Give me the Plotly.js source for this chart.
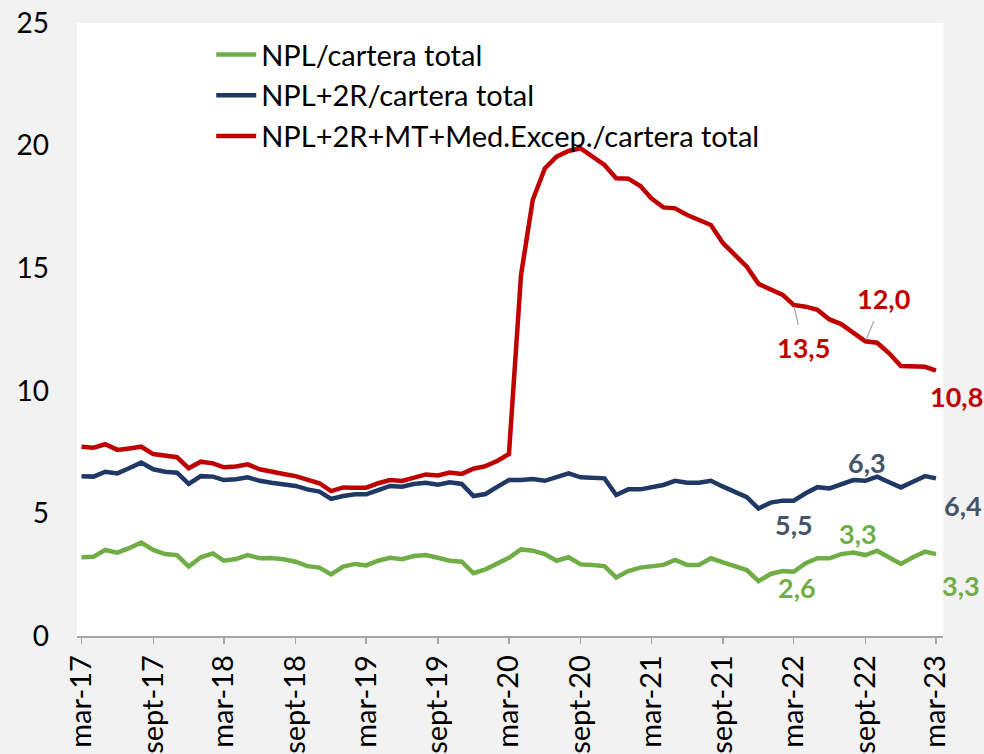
<!DOCTYPE html>
<html>
<head>
<meta charset="utf-8">
<script src="https://cdn.plot.ly/plotly-3.0.1.min.js"></script>
<style>
  html, body { margin: 0; padding: 0; background: #f2f2f2; }
  #chart { width: 984px; height: 754px; }
</style>
</head>
<body>
<div id="chart"></div>
<script>
// Monthly observations, March 2017 – March 2023
const startYear = 2017, startMonth = 3, nMonths = 73;
const months = [];
for (let k = 0; k < nMonths; k++) {
  const m0 = startMonth - 1 + k;
  const y = startYear + Math.floor(m0 / 12);
  const m = (m0 % 12) + 1;
  months.push(y + '-' + String(m).padStart(2, '0') + '-01');
}

const seriesNames = ['NPL/cartera total', 'NPL+2R/cartera total', 'NPL+2R+MT+Med.Excep./cartera total'];

const npl = [3.21, 3.23, 3.51, 3.40, 3.58, 3.81, 3.51, 3.34, 3.30, 2.83, 3.21, 3.37,
  3.07, 3.14, 3.30, 3.17, 3.18, 3.13, 3.03, 2.85, 2.79, 2.51, 2.83, 2.94,
  2.88, 3.07, 3.19, 3.13, 3.26, 3.30, 3.19, 3.07, 3.03, 2.56, 2.72, 2.94,
  3.19, 3.53, 3.48, 3.34, 3.07, 3.21, 2.92, 2.90, 2.85, 2.39, 2.65, 2.79,
  2.83, 2.90, 3.10, 2.90, 2.90, 3.17, 3.00, 2.85, 2.69, 2.24, 2.53, 2.65,
  2.62, 2.97, 3.17, 3.17, 3.34, 3.40, 3.30, 3.48, 3.21, 2.94, 3.21, 3.44, 3.34];

const npl2r = [6.52, 6.50, 6.70, 6.63, 6.84, 7.07, 6.80, 6.70, 6.66, 6.20, 6.52, 6.50,
  6.36, 6.39, 6.47, 6.33, 6.25, 6.20, 6.12, 5.98, 5.89, 5.59, 5.71, 5.78,
  5.78, 5.95, 6.12, 6.09, 6.20, 6.25, 6.17, 6.27, 6.20, 5.71, 5.79, 6.09,
  6.36, 6.36, 6.40, 6.33, 6.50, 6.63, 6.47, 6.46, 6.43, 5.75, 5.98, 5.98,
  6.05, 6.16, 6.33, 6.25, 6.25, 6.33, 6.09, 5.89, 5.66, 5.20, 5.44, 5.52,
  5.52, 5.82, 6.07, 6.02, 6.20, 6.36, 6.33, 6.50, 6.27, 6.06, 6.29, 6.52, 6.43];

const nplAll = [7.72, 7.68, 7.82, 7.59, 7.65, 7.72, 7.42, 7.35, 7.29, 6.84, 7.11, 7.04,
  6.88, 6.91, 7.00, 6.80, 6.69, 6.61, 6.52, 6.36, 6.23, 5.91, 6.06, 6.05,
  6.05, 6.23, 6.36, 6.32, 6.47, 6.59, 6.55, 6.67, 6.61, 6.82, 6.93, 7.15,
  7.42, 14.72, 17.78, 19.07, 19.55, 19.78, 19.89, 19.58, 19.21, 18.67, 18.65, 18.35,
  17.85, 17.48, 17.44, 17.17, 16.99, 16.76, 16.02, 15.54, 15.06, 14.36, 14.11, 13.91,
  13.50, 13.43, 13.30, 12.91, 12.72, 12.37, 12.02, 11.96, 11.53, 11.01, 11.01, 10.98, 10.82];

const tickDates = ['2017-03-01', '2017-09-01', '2018-03-01', '2018-09-01', '2019-03-01', '2019-09-01',
  '2020-03-01', '2020-09-01', '2021-03-01', '2021-09-01', '2022-03-01', '2022-09-01', '2023-03-01'];
const tickLabels = ['mar-17', 'sept-17', 'mar-18', 'sept-18', 'mar-19', 'sept-19',
  'mar-20', 'sept-20', 'mar-21', 'sept-21', 'mar-22', 'sept-22', 'mar-23'];

// value labels: [series index, month index]
const labelPoints = [
  [2, 60], [2, 66], [2, 72],
  [1, 66], [1, 60], [1, 72],
  [0, 60], [0, 66], [0, 72]
];

const colors = ['#70ad47', '#1f3864', '#c00000'];
const labelColors = ['#70ad47', '#44546a', '#c00000'];
const FONT = 'Lato, "Open Sans", sans-serif';

const allSeries = [npl, npl2r, nplAll];
const traces = allSeries.map((vals, s) => ({
  type: 'scatter',
  mode: 'lines',
  name: seriesNames[s],
  x: months,
  y: vals,
  line: { color: colors[s], width: 4.5 },
  hoverinfo: 'x+y+name'
}));

// offsets (px) for each label relative to its point
const offsets = [
  { ax: 10, ay: 43, arrow: true },
  { ax: 18, ay: -43, arrow: true },
  { ax: 21, ay: 26, arrow: false },
  { ax: 2, ay: -18, arrow: false },
  { ax: 0, ay: 24, arrow: false },
  { ax: 27, ay: 27, arrow: false },
  { ax: 3, ay: 16, arrow: false },
  { ax: -7, ay: -22, arrow: false },
  { ax: 25, ay: 31, arrow: false }
];

const annotations = labelPoints.map(([s, i], k) => {
  const v = allSeries[s][i];
  const o = offsets[k];
  return {
    x: months[i], y: v, xref: 'x', yref: 'y',
    text: v.toFixed(1).replace('.', ','),
    showarrow: true,
    arrowhead: 0,
    arrowwidth: o.arrow ? 1.2 : 0.1,
    arrowcolor: o.arrow ? '#a6a6a6' : 'rgba(0,0,0,0)',
    ax: o.ax, ay: o.ay,
    standoff: 2,
    borderpad: 6,
    font: { family: FONT, size: 27, color: labelColors[s], weight: 'bold' }
  };
});

const layout = {
  width: 984,
  height: 754,
  paper_bgcolor: '#f2f2f2',
  plot_bgcolor: '#ffffff',
  margin: { l: 77, r: 41, t: 23, b: 118 },
  font: { family: FONT, color: '#000000' },
  showlegend: true,
  legend: {
    x: 0.155, y: 0.99, xanchor: 'left', yanchor: 'top',
    bgcolor: 'rgba(0,0,0,0)',
    font: { family: FONT, size: 29, color: '#000000' },
    itemwidth: 40,
    tracegroupgap: 0
  },
  xaxis: {
    type: 'date',
    range: ['2017-02-17 12:00', '2023-03-19'],
    tickmode: 'array',
    tickvals: tickDates,
    ticktext: tickLabels,
    tickangle: -90,
    ticks: 'outside',
    ticklen: 6,
    tickcolor: '#a6a6a6',
    tickwidth: 1.5,
    showline: true,
    linecolor: '#a6a6a6',
    linewidth: 1.5,
    showgrid: false,
    zeroline: false,
    tickfont: { family: FONT, size: 29, color: '#000000' },
    fixedrange: true
  },
  yaxis: {
    range: [0, 25],
    tickmode: 'linear',
    tick0: 0,
    dtick: 5,
    ticks: '',
    showline: false,
    showgrid: false,
    zeroline: false,
    ticklabelstandoff: 27,
    tickfont: { family: FONT, size: 28, color: '#000000' },
    fixedrange: true
  },
  annotations: annotations
};

Plotly.newPlot('chart', traces, layout, { displayModeBar: false, staticPlot: true });
</script>
</body>
</html>
